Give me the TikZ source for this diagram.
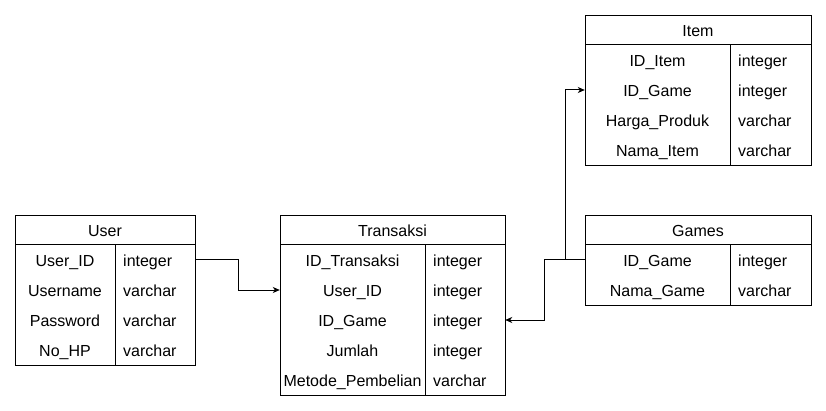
\documentclass[tikz,border=0pt]{standalone}
\usepackage{fontspec}
\setmainfont{Liberation Sans}
\usetikzlibrary{arrows.meta}
\begin{document}
\begin{tikzpicture}[x=1pt,y=-1pt,
  tbl/.style={draw,line width=1pt,inner sep=0pt,anchor=north west},
  rowbox/.style={inner sep=0pt,minimum height=30pt},
  ltext/.style={inner sep=0pt,font=\fontsize{16}{19}\selectfont,text height=13pt,text depth=0pt,anchor=center},
  rtext/.style={inner sep=0pt,font=\fontsize{16}{19}\selectfont,text height=13pt,text depth=0pt,anchor=west},
  sep/.style={line width=1pt},
  conn/.style={line width=1pt,-{Stealth[length=7pt,width=6pt,inset=2pt]}}
]
\useasboundingbox (0,0) rectangle (826,411);

% ---------- User ----------
\node[tbl,minimum width=180pt,minimum height=150pt] (user) at (15,215) {};
\draw[sep] (15,245) -- (195,245);
\draw[sep] (115,245) -- (115,365);
\node[ltext] (userh) at (105,230) {User};
\node[rowbox,minimum width=180pt] (u1) at (105,260) {};
\node[rowbox,minimum width=180pt] (u2) at (105,290) {};
\node[rowbox,minimum width=180pt] (u3) at (105,320) {};
\node[rowbox,minimum width=180pt] (u4) at (105,350) {};
\node[ltext] (u1a) at (65,260) {User\_ID};
\node[ltext] (u2a) at (65,290) {Username};
\node[ltext] (u3a) at (65,320) {Password};
\node[ltext] (u4a) at (65,350) {No\_HP};
\node[rtext] (u1b) at (123,260) {integer};
\node[rtext] (u2b) at (123,290) {varchar};
\node[rtext] (u3b) at (123,320) {varchar};
\node[rtext] (u4b) at (123,350) {varchar};

% ---------- Transaksi ----------
\node[tbl,minimum width=225pt,minimum height=180pt] (trans) at (280,215) {};
\draw[sep] (280,245) -- (505,245);
\draw[sep] (425,245) -- (425,395);
\node[ltext] (transh) at (392.5,230) {Transaksi};
\node[rowbox,minimum width=225pt] (t1) at (392.5,260) {};
\node[rowbox,minimum width=225pt] (t2) at (392.5,290) {};
\node[rowbox,minimum width=225pt] (t3) at (392.5,320) {};
\node[rowbox,minimum width=225pt] (t4) at (392.5,350) {};
\node[rowbox,minimum width=225pt] (t5) at (392.5,380) {};
\node[ltext] (t1a) at (352.5,260) {ID\_Transaksi};
\node[ltext] (t2a) at (352.5,290) {User\_ID};
\node[ltext] (t3a) at (352.5,320) {ID\_Game};
\node[ltext] (t4a) at (352.5,350) {Jumlah};
\node[ltext] (t5a) at (352.5,380) {Metode\_Pembelian};
\node[rtext] (t1b) at (433,260) {integer};
\node[rtext] (t2b) at (433,290) {integer};
\node[rtext] (t3b) at (433,320) {integer};
\node[rtext] (t4b) at (433,350) {integer};
\node[rtext] (t5b) at (433,380) {varchar};

% ---------- Item ----------
\node[tbl,minimum width=226pt,minimum height=150pt] (item) at (585,15) {};
\draw[sep] (585,45) -- (811,45);
\draw[sep] (730,45) -- (730,165);
\node[ltext] (itemh) at (698,30) {Item};
\node[rowbox,minimum width=226pt] (i1) at (698,60) {};
\node[rowbox,minimum width=226pt] (i2) at (698,90) {};
\node[rowbox,minimum width=226pt] (i3) at (698,120) {};
\node[rowbox,minimum width=226pt] (i4) at (698,150) {};
\node[ltext] (i1a) at (657.5,60) {ID\_Item};
\node[ltext] (i2a) at (657.5,90) {ID\_Game};
\node[ltext] (i3a) at (657.5,120) {Harga\_Produk};
\node[ltext] (i4a) at (657.5,150) {Nama\_Item};
\node[rtext] (i1b) at (738,60) {integer};
\node[rtext] (i2b) at (738,90) {integer};
\node[rtext] (i3b) at (738,120) {varchar};
\node[rtext] (i4b) at (738,150) {varchar};

% ---------- Games ----------
\node[tbl,minimum width=226pt,minimum height=90pt] (games) at (585,215) {};
\draw[sep] (585,245) -- (811,245);
\draw[sep] (730,245) -- (730,305);
\node[ltext] (gamesh) at (698,230) {Games};
\node[rowbox,minimum width=226pt] (g1) at (698,260) {};
\node[rowbox,minimum width=226pt] (g2) at (698,290) {};
\node[ltext] (g1a) at (657.5,260) {ID\_Game};
\node[ltext] (g2a) at (657.5,290) {Nama\_Game};
\node[rtext] (g1b) at (738,260) {integer};
\node[rtext] (g2b) at (738,290) {varchar};

% ---------- Connectors ----------
\draw[conn] (u1.east) -- ++(43,0) |- (t2.west);
\draw[conn] (g1.west) -- ++(-19,0) |- (i2.west);
\draw[conn] (g1.west) -- ++(-40,0) |- (t3.east);
\end{tikzpicture}
\end{document}
